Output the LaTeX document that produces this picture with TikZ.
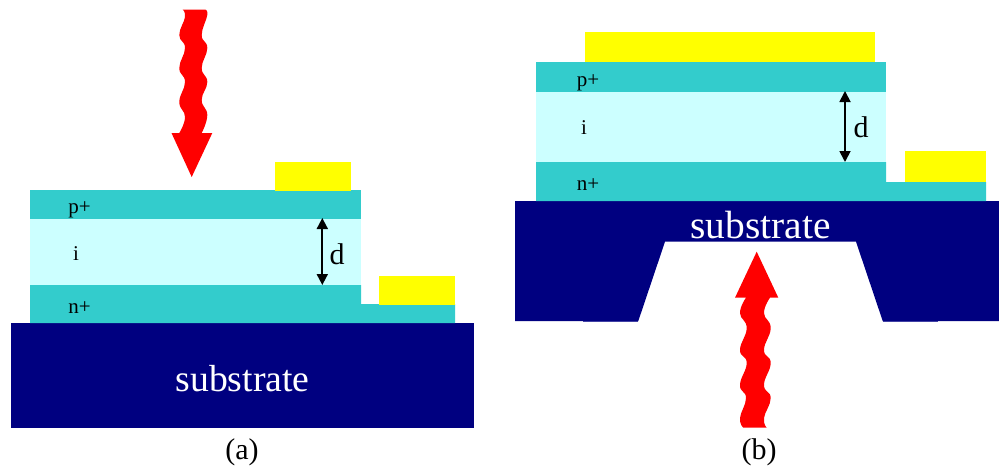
\documentclass[tikz,border=0pt]{standalone}
\usepackage{fontspec}
\setmainfont{Liberation Serif}
\usetikzlibrary{arrows.meta}
\definecolor{dope}{HTML}{33CCCC}
\definecolor{intr}{HTML}{CCFFFF}
\definecolor{subst}{HTML}{000080}
\definecolor{subedge}{HTML}{4A4AAA}
\definecolor{metal}{HTML}{FFFF00}
\definecolor{beam}{HTML}{FF0000}
\tikzset{
  dopelayer/.style={fill=dope},
  intrlayer/.style={fill=intr},
  contact/.style={fill=metal},
  subblock/.style={fill=subst},
  lightwave/.style={fill=beam},
  smalllabel/.style={font=\fontsize{21}{24}\selectfont,inner sep=0pt},
  sublabel/.style={font=\fontsize{37.7}{40}\selectfont,text=white,inner sep=0pt},
  biglabel/.style={font=\fontsize{30}{32}\selectfont,inner sep=0pt},
  thick arrow/.style={draw=black,line width=1.8pt,{Triangle[length=11pt,width=11pt]}-{Triangle[length=11pt,width=11pt]}}
}
\begin{document}
\begin{tikzpicture}[x=1pt,y=-1pt]
\useasboundingbox (0,0) rectangle (999,466);
% --- panel (a)
\fill[subblock] (11,323) rectangle (474,428);
\fill[dopelayer] (30,285) -- (361,285) -- (361,304) -- (455,304) -- (455,323) -- (30,323) -- cycle;
\fill[intrlayer] (30,219) rectangle (361,285);
\fill[dopelayer] (30,190) rectangle (361,219);
\fill[contact] (275,162) rectangle (351,191);
\fill[contact] (379,276) rectangle (455,305);
\fill[lightwave] (182.5,9.5) -- plot[smooth,tension=0.8] coordinates {(182.5,9.5) (185,17) (179.3,35) (185,48) (179.3,68) (185,82) (179.3,102) (185,117) (179.3,133)}
  -- (171.5,133) -- (191.7,177) -- (212.3,133) -- (201.7,133)
  -- plot[smooth,tension=0.8] coordinates {(201.7,133) (207.3,115) (201.7,100) (207.3,82) (201.7,68) (207.3,48) (201.7,35) (207.3,15) (205,9.5)} -- cycle;
\coordinate (atop) at (322.3,218);
\coordinate (abot) at (322.3,285);
\draw[thick arrow] (atop) -- (abot);
\node[biglabel] (ad) at (337,254) {d};
\node[smalllabel] (ap) at (79.5,210) {p+};
\node[smalllabel] (ai) at (76,254) {i};
\node[smalllabel] (an) at (79.5,308) {n+};
\node[sublabel] (as) at (242.5,379) {substrate};
\node[biglabel] (acap) at (242,452) {(a)};
% --- panel (b)
\fill[subedge] (583,320) rectangle (638,322);
\fill[subedge] (883,320) rectangle (938,322);
\fill[subblock] (515,201) -- (999,201) -- (999,321) -- (882.7,321) -- (856,241.7) -- (665,241.7) -- (638.3,321) -- (515,321) -- cycle;
\fill[dopelayer] (536,162) -- (886,162) -- (886,182) -- (986,182) -- (986,201) -- (536,201) -- cycle;
\fill[intrlayer] (536,92) rectangle (886,162);
\fill[dopelayer] (536,62) rectangle (886,92);
\fill[contact] (585,32) rectangle (875,62);
\fill[contact] (905,151) rectangle (986,182);
\fill[lightwave] (743.3,427.7) -- plot[smooth,tension=0.8] coordinates {(743.3,427.7) (740,418) (746,398) (740,385) (746.7,363) (740,350) (746.7,328) (740,313) (746,297.7)}
  -- (735,297.7) -- (756.7,251.7) -- (778.3,297.7) -- (770,297.7)
  -- plot[smooth,tension=0.8] coordinates {(770,297.7) (764,313) (770.7,328) (764,350) (770.7,363) (764,385) (770.7,398) (764,418) (766.7,427.7)} -- cycle;
\coordinate (btop) at (845,91);
\coordinate (bbot) at (845,162);
\draw[thick arrow] (btop) -- (bbot);
\node[biglabel] (bd) at (861,127) {d};
\node[smalllabel] (bp) at (588,83) {p+};
\node[smalllabel] (bi) at (584,128) {i};
\node[smalllabel] (bn) at (588,185) {n+};
\node[sublabel,font=\fontsize{39.4}{42}\selectfont] (bs) at (760.5,225) {substrate};
\node[biglabel] (bcap) at (759,452) {(b)};
\end{tikzpicture}
\end{document}
